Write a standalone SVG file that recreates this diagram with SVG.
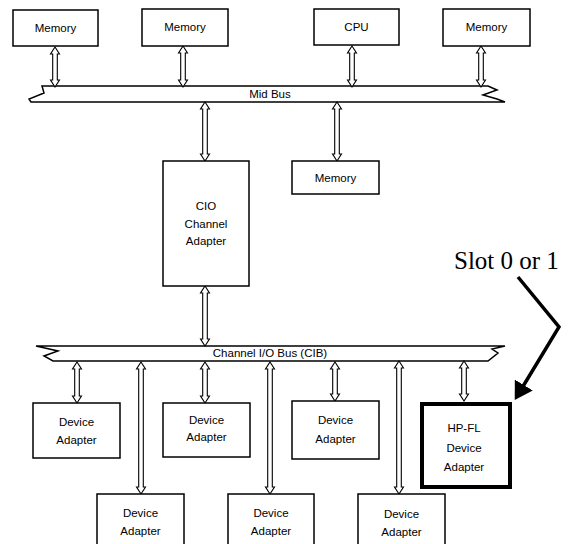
<svg xmlns="http://www.w3.org/2000/svg" width="569" height="544" viewBox="0 0 569 544">
<style>
.box{fill:#fff;stroke:#000;stroke-width:1.5}
.thick{fill:#fff;stroke:#000;stroke-width:4}
.t{font-family:"Liberation Sans",Arial,sans-serif;font-size:11.5px;text-anchor:middle;fill:#000}
.bus{fill:#fff;stroke:#000;stroke-width:1.5;stroke-linejoin:miter}
.da{fill:#fff;stroke:#000;stroke-width:1.1}
.slot{font-family:"Liberation Serif","Times New Roman",serif;font-size:25px;fill:#000}
</style>
<defs>
<marker id="ah" markerWidth="6" markerHeight="6" refX="1" refY="3" orient="auto" markerUnits="strokeWidth">
<path d="M0,0 L5,3 L0,6 Z" fill="#000"/>
</marker>
</defs>
<rect width="569" height="544" fill="#fff"/>

<g id="mid-bus">
<path class="bus" d="M42,86 L488,86 L497,90 L483,95 L497,99 L505,102 L31,102 L29,99 L44,93 Z"/>
<text class="t" x="270" y="98">Mid Bus</text>
</g>
<g id="cib-bus">
<path class="bus" d="M36,346 L505,346 L492,349 L498,353 L488,361 L53,361 L44,356 L58,351 Z"/>
<text class="t" x="270" y="357">Channel I/O Bus (CIB)</text>
</g>

<g id="connectors">
<path class="da" d="M55,47 l4.5,7 h-2.2 v26 h2.2 l-4.5,7 l-4.5,-7 h2.2 v-26 h-2.2 Z"/>
<path class="da" d="M183,46 l4.5,7 h-2.2 v27 h2.2 l-4.5,7 l-4.5,-7 h2.2 v-27 h-2.2 Z"/>
<path class="da" d="M352,46 l4.5,7 h-2.2 v27 h2.2 l-4.5,7 l-4.5,-7 h2.2 v-27 h-2.2 Z"/>
<path class="da" d="M481,46 l4.5,7 h-2.2 v27 h2.2 l-4.5,7 l-4.5,-7 h2.2 v-27 h-2.2 Z"/>
<path class="da" d="M205,102 l4.5,7 h-2.2 v45 h2.2 l-4.5,7 l-4.5,-7 h2.2 v-45 h-2.2 Z"/>
<path class="da" d="M337,102 l4.5,7 h-2.2 v45 h2.2 l-4.5,7 l-4.5,-7 h2.2 v-45 h-2.2 Z"/>
<path class="da" d="M205,286 l4.5,7 h-2.2 v46 h2.2 l-4.5,7 l-4.5,-7 h2.2 v-46 h-2.2 Z"/>
<path class="da" d="M77,362 l4.5,7 h-2.2 v27 h2.2 l-4.5,7 l-4.5,-7 h2.2 v-27 h-2.2 Z"/>
<path class="da" d="M141,362 l4.5,7 h-2.2 v118 h2.2 l-4.5,7 l-4.5,-7 h2.2 v-118 h-2.2 Z"/>
<path class="da" d="M205,362 l4.5,7 h-2.2 v27 h2.2 l-4.5,7 l-4.5,-7 h2.2 v-27 h-2.2 Z"/>
<path class="da" d="M270,362 l4.5,7 h-2.2 v118 h2.2 l-4.5,7 l-4.5,-7 h2.2 v-118 h-2.2 Z"/>
<path class="da" d="M335,362 l4.5,7 h-2.2 v25 h2.2 l-4.5,7 l-4.5,-7 h2.2 v-25 h-2.2 Z"/>
<path class="da" d="M399,361 l4.5,7 h-2.2 v119 h2.2 l-4.5,7 l-4.5,-7 h2.2 v-119 h-2.2 Z"/>
<path class="da" d="M464,361 l4.5,7 h-2.2 v26 h2.2 l-4.5,7 l-4.5,-7 h2.2 v-26 h-2.2 Z"/>
<polyline points="518,277 559,327 522,388" fill="none" stroke="#000" stroke-width="3.5" marker-end="url(#ah)"/>
</g>

<g id="memory1"><rect class="box" x="13" y="10" width="85" height="36"/><text class="t" x="55.5" y="32">Memory</text></g>
<g id="memory2"><rect class="box" x="142" y="9" width="86" height="37"/><text class="t" x="185" y="31">Memory</text></g>
<g id="cpu"><rect class="box" x="314" y="9" width="85" height="36"/><text class="t" x="356.5" y="31">CPU</text></g>
<g id="memory4"><rect class="box" x="443" y="9" width="87" height="37"/><text class="t" x="486.5" y="31">Memory</text></g>

<g id="cio"><rect class="box" x="163" y="161" width="86" height="125"/>
<text class="t" x="206" y="210">CIO</text><text class="t" x="206" y="228">Channel</text><text class="t" x="206" y="245">Adapter</text></g>
<g id="memory5"><rect class="box" x="292" y="161" width="87" height="33"/><text class="t" x="335.5" y="182">Memory</text></g>

<g id="da1"><rect class="box" x="33" y="403" width="87" height="55"/><text class="t" x="76.5" y="426">Device</text><text class="t" x="76.5" y="444">Adapter</text></g>
<g id="da2"><rect class="box" x="163" y="403" width="87" height="54"/><text class="t" x="206.5" y="424">Device</text><text class="t" x="206.5" y="441">Adapter</text></g>
<g id="da3"><rect class="box" x="292" y="401" width="87" height="58"/><text class="t" x="335.5" y="424">Device</text><text class="t" x="335.5" y="443">Adapter</text></g>
<g id="hpfl"><rect class="thick" x="422" y="404" width="88" height="83"/><text class="t" x="464" y="432">HP-FL</text><text class="t" x="464" y="452">Device</text><text class="t" x="464" y="471">Adapter</text></g>

<g id="da4"><rect class="box" x="97" y="494" width="87" height="60"/><text class="t" x="140.5" y="517">Device</text><text class="t" x="140.5" y="535">Adapter</text></g>
<g id="da5"><rect class="box" x="228" y="494" width="86" height="60"/><text class="t" x="271" y="517">Device</text><text class="t" x="271" y="535">Adapter</text></g>
<g id="da6"><rect class="box" x="358" y="494" width="87" height="60"/><text class="t" x="401.5" y="518">Device</text><text class="t" x="401.5" y="536">Adapter</text></g>

<g id="slot-label"><text class="slot" x="454" y="269">Slot 0 or 1</text></g>
</svg>
